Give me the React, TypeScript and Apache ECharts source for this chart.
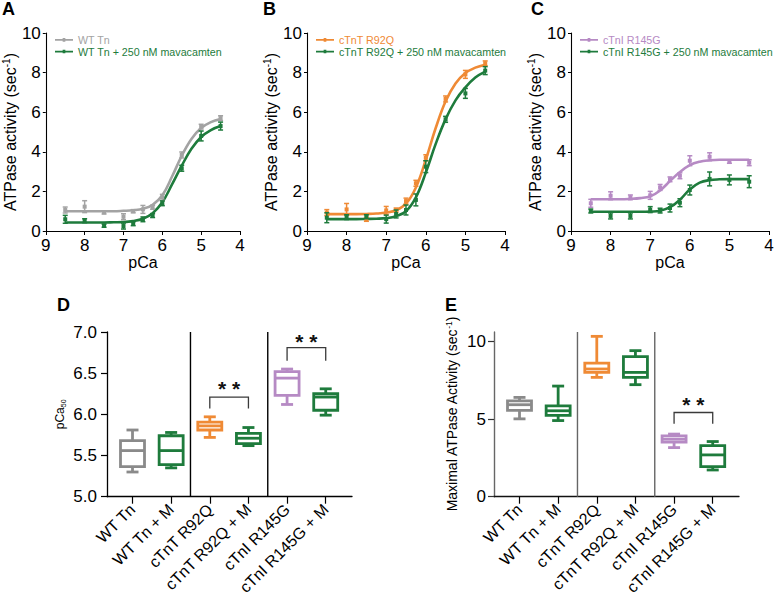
import React, { useEffect, useRef } from "react";
import * as echarts from "echarts";

// ---------- Data: panels A–C ----------
const pCaPts = [8.5, 8, 7.5, 7, 6.75, 6.5, 6.25, 6, 5.5, 5, 4.5];
const curvePCa = [8.5, 8.25, 8, 7.75, 7.5, 7.25, 7, 6.75, 6.5, 6.25, 6, 5.75, 5.5, 5.25, 5, 4.75, 4.5];

const wtTnMean = [1.06, 1.23, 0.94, 0.72, 1.0, 1.09, 1.2, 1.7, 3.84, 5.27, 5.7];
const wtTnErr = [0.15, 0.3, 0.08, 0.15, 0.08, 0.2, 0.1, 0.15, 0.15, 0.12, 0.12];
const wtTnFit = [1.0, 1.0, 1.0, 1.0, 1.0, 1.0, 1.02, 1.05, 1.12, 1.32, 1.8, 2.75, 3.8, 4.65, 5.2, 5.5, 5.65];
const wtTnMMean = [0.59, 0.52, 0.27, 0.25, 0.37, 0.59, 0.78, 1.4, 3.17, 4.8, 5.3];
const wtTnMErr = [0.2, 0.1, 0.08, 0.15, 0.1, 0.12, 0.1, 0.12, 0.15, 0.25, 0.2];
const wtTnMFit = [0.43, 0.43, 0.43, 0.43, 0.43, 0.44, 0.45, 0.5, 0.62, 0.9, 1.45, 2.35, 3.3, 4.15, 4.75, 5.1, 5.3];

const r92qMean = [0.93, 1.09, 0.59, 1.04, 1.06, 1.51, 2.41, 3.7, 6.67, 7.91, 8.47];
const r92qErr = [0.15, 0.3, 0.1, 0.2, 0.1, 0.15, 0.15, 0.15, 0.15, 0.2, 0.12];
const r92qFit = [0.85, 0.85, 0.85, 0.85, 0.86, 0.88, 0.93, 1.05, 1.38, 2.2, 3.6, 5.2, 6.55, 7.45, 7.98, 8.25, 8.4];
const r92qMMean = [0.67, 0.7, 0.72, 0.6, 0.86, 1.06, 1.57, 3.25, 5.64, 6.95, 8.1];
const r92qMErr = [0.25, 0.12, 0.1, 0.2, 0.2, 0.25, 0.3, 0.3, 0.15, 0.25, 0.2];
const r92qMFit = [0.6, 0.6, 0.6, 0.6, 0.61, 0.62, 0.65, 0.75, 1.0, 1.7, 2.95, 4.4, 5.65, 6.6, 7.25, 7.75, 8.05];

const r145gMean = [1.4, 1.78, 1.7, 1.8, 2.2, 2.61, 2.79, 3.55, 3.75, 3.5, 3.45];
const r145gErr = [0.2, 0.2, 0.12, 0.2, 0.15, 0.12, 0.15, 0.25, 0.2, 0.08, 0.15];
const r145gFit = [1.6, 1.6, 1.6, 1.6, 1.62, 1.66, 1.75, 2.05, 2.52, 2.98, 3.33, 3.5, 3.57, 3.6, 3.6, 3.6, 3.6];
const r145gMMean = [1.01, 0.76, 0.76, 1.08, 1.03, 1.16, 1.43, 2.07, 2.63, 2.58, 2.49];
const r145gMErr = [0.1, 0.15, 0.15, 0.15, 0.12, 0.2, 0.2, 0.25, 0.35, 0.25, 0.3];
const r145gMFit = [0.97, 0.97, 0.97, 0.97, 0.97, 0.97, 0.98, 1.02, 1.2, 1.58, 2.1, 2.44, 2.57, 2.61, 2.62, 2.62, 2.62];

// ---------- Data: panels D–E (box plots: [min, q1, median, q3, max]) ----------
const boxCategories = ["WT Tn", "WT Tn + M", "cTnT R92Q", "cTnT R92Q + M", "cTnI R145G", "cTnI R145G + M"];
const pCa50Box = [
  [5.3, 5.365, 5.56, 5.68, 5.81],
  [5.35, 5.39, 5.56, 5.74, 5.78],
  [5.72, 5.81, 5.86, 5.905, 5.97],
  [5.62, 5.645, 5.71, 5.77, 5.84],
  [6.12, 6.23, 6.44, 6.52, 6.55],
  [5.99, 6.05, 6.21, 6.25, 6.31],
];
const maxAtpaseBox = [
  [5.01, 5.55, 5.92, 6.17, 6.39],
  [4.9, 5.23, 5.53, 5.85, 7.12],
  [7.68, 8.0, 8.22, 8.6, 10.32],
  [7.21, 7.68, 8.0, 9.01, 9.4],
  [3.16, 3.51, 3.7, 3.92, 4.03],
  [1.72, 1.94, 2.69, 3.29, 3.55],
];
const groupSeparators = [1.5, 3.5];
// brackets: [leftIndex, rightIndex, topValue, legBottomValue, starsValue]
const pCa50Brackets = [
  [2, 3, 6.21, 6.07, 6.37],
  [4, 5, 6.81, 6.65, 6.95],
];
const maxAtpaseBrackets = [[4, 5, 5.42, 4.69, 6.24]];
const pCa50Ticks = [5.0, 5.5, 6.0, 6.5, 7.0];
const maxAtpaseTicks = [0, 5, 10];

// ---------- Colors ----------
const GRAY = "#a3a3a3";
const GRAY_BOX = "#8a8a8a";
const GREEN = "#1e7b3c";
const ORANGE = "#ef8a35";
const PURPLE = "#b68ac4";
const boxColors = [GRAY_BOX, GREEN, ORANGE, GREEN, PURPLE, GREEN];

const FONT = "'Liberation Sans', Arial, Helvetica, sans-serif";

const legendIcon = "path://M0,1L20,1L20,3L0,3Z M8.5,0L11.5,0L11.5,4L8.5,4Z";

function curveSeries(name: string, idx: number, ys: number[], color: string) {
  return {
    type: "line",
    name,
    xAxisIndex: idx,
    yAxisIndex: idx,
    data: curvePCa.map((x, i) => [x, ys[i]]),
    smooth: 0.4,
    showSymbol: false,
    symbol: "none",
    color,
    itemStyle: { color },
    lineStyle: { color, width: 2.6 },
    z: 2,
  };
}

function pointSeries(name: string, idx: number, ys: number[], es: number[], color: string) {
  return {
    type: "custom",
    name,
    xAxisIndex: idx,
    yAxisIndex: idx,
    z: 3,
    data: pCaPts.map((x, i) => [x, ys[i], es[i]]),
    renderItem: (params: any, api: any) => {
      const x = api.value(0);
      const y = api.value(1);
      const e = api.value(2);
      const p = api.coord([x, y]);
      const t = api.coord([x, y + e]);
      const b = api.coord([x, y - e]);
      const c = 2.5;
      const st = { stroke: color, lineWidth: 1.5 };
      return {
        type: "group",
        children: [
          { type: "line", shape: { x1: p[0], y1: t[1], x2: p[0], y2: b[1] }, style: st },
          { type: "line", shape: { x1: p[0] - c, y1: t[1], x2: p[0] + c, y2: t[1] }, style: st },
          { type: "line", shape: { x1: p[0] - c, y1: b[1], x2: p[0] + c, y2: b[1] }, style: st },
          { type: "rect", shape: { x: p[0] - 2, y: p[1] - 2, width: 4, height: 4 }, style: { fill: color } },
        ],
      };
    },
  };
}

function boxSeries(idx: number, data: number[][]) {
  return {
    type: "custom",
    name: "box" + idx,
    xAxisIndex: idx,
    yAxisIndex: idx,
    z: 3,
    data: data.map((d, i) => [i, ...d]),
    renderItem: (params: any, api: any) => {
      const x = api.value(0);
      const lo = api.coord([x, api.value(1)]);
      const q1 = api.coord([x, api.value(2)]);
      const md = api.coord([x, api.value(3)]);
      const q3 = api.coord([x, api.value(4)]);
      const hi = api.coord([x, api.value(5)]);
      const color = boxColors[params.dataIndex];
      const cx = lo[0];
      const hw = 12;
      const cw = 6;
      const lw = 2.8;
      const st = { stroke: color, lineWidth: lw };
      return {
        type: "group",
        children: [
          { type: "line", shape: { x1: cx, y1: hi[1], x2: cx, y2: q3[1] }, style: st },
          { type: "line", shape: { x1: cx, y1: q1[1], x2: cx, y2: lo[1] }, style: st },
          { type: "line", shape: { x1: cx - cw, y1: hi[1], x2: cx + cw, y2: hi[1] }, style: st },
          { type: "line", shape: { x1: cx - cw, y1: lo[1], x2: cx + cw, y2: lo[1] }, style: st },
          {
            type: "rect",
            shape: { x: cx - hw, y: q3[1], width: 2 * hw, height: q1[1] - q3[1] },
            style: { fill: "#fff", stroke: color, lineWidth: lw },
          },
          { type: "line", shape: { x1: cx - hw, y1: md[1], x2: cx + hw, y2: md[1] }, style: st },
        ],
      };
    },
  };
}

function separatorSeries(idx: number, yMin: number, yMax: number, color: string) {
  return {
    type: "custom",
    name: "sep" + idx,
    xAxisIndex: idx,
    yAxisIndex: idx,
    z: 2,
    data: groupSeparators.map((s) => [s, yMin, yMax]),
    renderItem: (params: any, api: any) => {
      const a = api.coord([api.value(0), api.value(1)]);
      const b = api.coord([api.value(0), api.value(2)]);
      return {
        type: "line",
        shape: { x1: a[0], y1: a[1], x2: b[0], y2: b[1] },
        style: { stroke: color, lineWidth: 1.4 },
      };
    },
  };
}

function bracketSeries(idx: number, data: number[][]) {
  return {
    type: "custom",
    name: "br" + idx,
    xAxisIndex: idx,
    yAxisIndex: idx,
    z: 4,
    data,
    renderItem: (params: any, api: any) => {
      const l = api.coord([api.value(0), api.value(2)]);
      const r = api.coord([api.value(1), api.value(2)]);
      const lb = api.coord([api.value(0), api.value(3)]);
      const s = api.coord([(api.value(0) + api.value(1)) / 2, api.value(4)]);
      const st = { stroke: "#3a3a3a", lineWidth: 1.3 };
      const star = (dx: number) => ({
        type: "text",
        style: {
          text: "*",
          x: s[0] + dx,
          y: s[1] + 5,
          fontSize: 21,
          fontWeight: "bold",
          fontFamily: FONT,
          fill: "#111",
          align: "center",
          verticalAlign: "middle",
        },
      });
      return {
        type: "group",
        children: [
          { type: "polyline", shape: { points: [[lb[0], lb[1]], [l[0], l[1]], [r[0], r[1]], [r[0], lb[1]]] }, style: { ...st, fill: "none" } },
          star(-7),
          star(7),
        ],
      };
    },
  };
}

const axisLineBlack = { show: true, onZero: false, lineStyle: { color: "#000", width: 1.1 } };

function pcaXAxis(idx: number) {
  return {
    gridIndex: idx,
    type: "value",
    min: 4,
    max: 9,
    interval: 1,
    inverse: true,
    axisLine: axisLineBlack,
    axisTick: { show: true, length: 4, lineStyle: { color: "#000" } },
    axisLabel: { fontSize: 17, color: "#000", margin: 6, fontFamily: FONT },
    splitLine: { show: false },
    name: "pCa",
    nameLocation: "middle",
    nameGap: 14,
    nameTextStyle: { fontSize: 16, color: "#000", fontFamily: FONT, verticalAlign: "top" },
  };
}

function atpYAxis(idx: number) {
  return {
    gridIndex: idx,
    type: "value",
    min: 0,
    max: 10,
    interval: 2,
    axisLine: axisLineBlack,
    axisTick: { show: true, length: 3, lineStyle: { color: "#000" } },
    axisLabel: { fontSize: 17, color: "#000", margin: 5, fontFamily: FONT },
    splitLine: { show: false },
    name: "{a|ATPase activity (sec}{s|-1}{a|)}",
    nameLocation: "middle",
    nameGap: 24,
    nameTextStyle: {
      color: "#000",
      fontFamily: FONT,
      rich: {
        a: { fontSize: 16, color: "#000", fontFamily: FONT, lineHeight: 18 },
        s: { fontSize: 10, color: "#000", fontFamily: FONT, verticalAlign: "top", lineHeight: 10 },
      },
    },
  };
}

function catXAxis(idx: number, lineColor: string) {
  const ticks = boxCategories.map((_, i) => i);
  return {
    gridIndex: idx,
    type: "value",
    min: -0.66,
    max: 5.68,
    axisLine: { show: true, onZero: false, lineStyle: { color: lineColor, width: 1.3 } },
    axisTick: { show: true, length: 7, customValues: ticks, lineStyle: { color: "#000", width: 1.2 } },
    axisLabel: {
      customValues: ticks,
      formatter: (v: number) => boxCategories[Math.round(v)],
      rotate: 45,
      fontSize: 16,
      color: "#000",
      margin: 10,
      fontFamily: FONT,
    },
    splitLine: { show: false },
  };
}

const panelLetters = [
  { t: "A", x: 2, y: 8.5 },
  { t: "B", x: 263, y: 8.5 },
  { t: "C", x: 531, y: 8.5 },
  { t: "D", x: 57, y: 305 },
  { t: "E", x: 445, y: 305 },
];

const option: any = {
  animation: false,
  backgroundColor: "#fff",
  textStyle: { fontFamily: FONT },
  graphic: panelLetters.map((p) => ({
    type: "text",
    x: p.x,
    y: p.y,
    style: { text: p.t, fontSize: 18, fontWeight: "bold", fontFamily: FONT, fill: "#000", verticalAlign: "middle" },
  })),
  legend: [
    { names: ["WT Tn", "WT Tn + 250 nM mavacamten"], colors: [GRAY, GREEN], left: 55 },
    { names: ["cTnT R92Q", "cTnT R92Q + 250 nM mavacamten"], colors: [ORANGE, GREEN], left: 316 },
    { names: ["cTnI R145G", "cTnI R145G + 250 nM mavacamten"], colors: [PURPLE, GREEN], left: 580 },
  ].map((l) => ({
    left: l.left,
    top: 34,
    orient: "vertical",
    itemGap: 0,
    itemWidth: 18,
    itemHeight: 4,
    icon: legendIcon,
    selectedMode: false,
    padding: 0,
    textStyle: { fontSize: 10.7, fontFamily: FONT, lineHeight: 11.7 },
    data: l.names.map((n, i) => ({ name: n, textStyle: { color: l.colors[i] } })),
  })),
  grid: [
    { left: 43, top: 33, width: 197, height: 198 },
    { left: 307, top: 33, width: 198, height: 198 },
    { left: 571, top: 33, width: 198, height: 198 },
    { left: 107, top: 332, width: 245, height: 164.7 },
    { left: 494, top: 332, width: 245, height: 164.7 },
  ],
  xAxis: [pcaXAxis(0), pcaXAxis(1), pcaXAxis(2), catXAxis(3, "#000"), catXAxis(4, "#111")],
  yAxis: [
    atpYAxis(0),
    atpYAxis(1),
    atpYAxis(2),
    {
      gridIndex: 3,
      type: "value",
      min: 5,
      max: 7,
      interval: 0.5,
      axisLine: { show: true, onZero: false, lineStyle: { color: "#000", width: 1.3 } },
      axisTick: { show: true, length: 6, customValues: pCa50Ticks, lineStyle: { color: "#000", width: 1.2 } },
      axisLabel: {
        customValues: pCa50Ticks,
        formatter: (v: number) => v.toFixed(1),
        fontSize: 17,
        color: "#000",
        margin: 10,
        fontFamily: FONT,
      },
      splitLine: { show: false },
      name: "{a|pCa}{b|50}",
      nameLocation: "middle",
      nameGap: 40,
      nameTextStyle: {
        rich: {
          a: { fontSize: 12, color: "#000", fontFamily: FONT, lineHeight: 14 },
          b: { fontSize: 7, color: "#000", fontFamily: FONT, verticalAlign: "bottom", lineHeight: 8 },
        },
      },
    },
    {
      gridIndex: 4,
      type: "value",
      min: 0,
      max: 10.6,
      axisLine: { show: true, onZero: false, lineStyle: { color: "#666", width: 1.4 } },
      axisTick: { show: true, length: 6, customValues: maxAtpaseTicks, lineStyle: { color: "#333", width: 1.2 } },
      axisLabel: { customValues: maxAtpaseTicks, fontSize: 17, color: "#000", margin: 8, fontFamily: FONT },
      splitLine: { show: false },
      name: "{a|Maximal ATPase Activity (sec}{s|-1}{a|)}",
      nameLocation: "middle",
      nameGap: 34,
      nameTextStyle: {
        rich: {
          a: { fontSize: 14, color: "#000", fontFamily: FONT, lineHeight: 16 },
          s: { fontSize: 8.5, color: "#000", fontFamily: FONT, verticalAlign: "top", lineHeight: 8 },
        },
      },
    },
  ],
  series: [
    curveSeries("WT Tn", 0, wtTnFit, GRAY),
    curveSeries("WT Tn + 250 nM mavacamten", 0, wtTnMFit, GREEN),
    pointSeries("WT Tn pts", 0, wtTnMean, wtTnErr, GRAY),
    pointSeries("WT Tn + M pts", 0, wtTnMMean, wtTnMErr, GREEN),
    curveSeries("cTnT R92Q", 1, r92qFit, ORANGE),
    curveSeries("cTnT R92Q + 250 nM mavacamten", 1, r92qMFit, GREEN),
    pointSeries("cTnT R92Q pts", 1, r92qMean, r92qErr, ORANGE),
    pointSeries("cTnT R92Q + M pts", 1, r92qMMean, r92qMErr, GREEN),
    curveSeries("cTnI R145G", 2, r145gFit, PURPLE),
    curveSeries("cTnI R145G + 250 nM mavacamten", 2, r145gMFit, GREEN),
    pointSeries("cTnI R145G pts", 2, r145gMean, r145gErr, PURPLE),
    pointSeries("cTnI R145G + M pts", 2, r145gMMean, r145gMErr, GREEN),
    separatorSeries(3, 5, 7, "#000"),
    boxSeries(3, pCa50Box),
    bracketSeries(3, pCa50Brackets),
    separatorSeries(4, 0, 10.6, "#666"),
    boxSeries(4, maxAtpaseBox),
    bracketSeries(4, maxAtpaseBrackets),
  ],
};

export default function App() {
  const ref = useRef<HTMLDivElement>(null);
  useEffect(() => {
    if (!ref.current) return;
    const chart = echarts.init(ref.current, undefined, { renderer: "svg" });
    chart.setOption(option);
    return () => chart.dispose();
  }, []);
  return (
    <div
      ref={ref}
      style={{ position: "absolute", left: 0, top: 0, width: 777, height: 600, background: "#fff" }}
    />
  );
}
